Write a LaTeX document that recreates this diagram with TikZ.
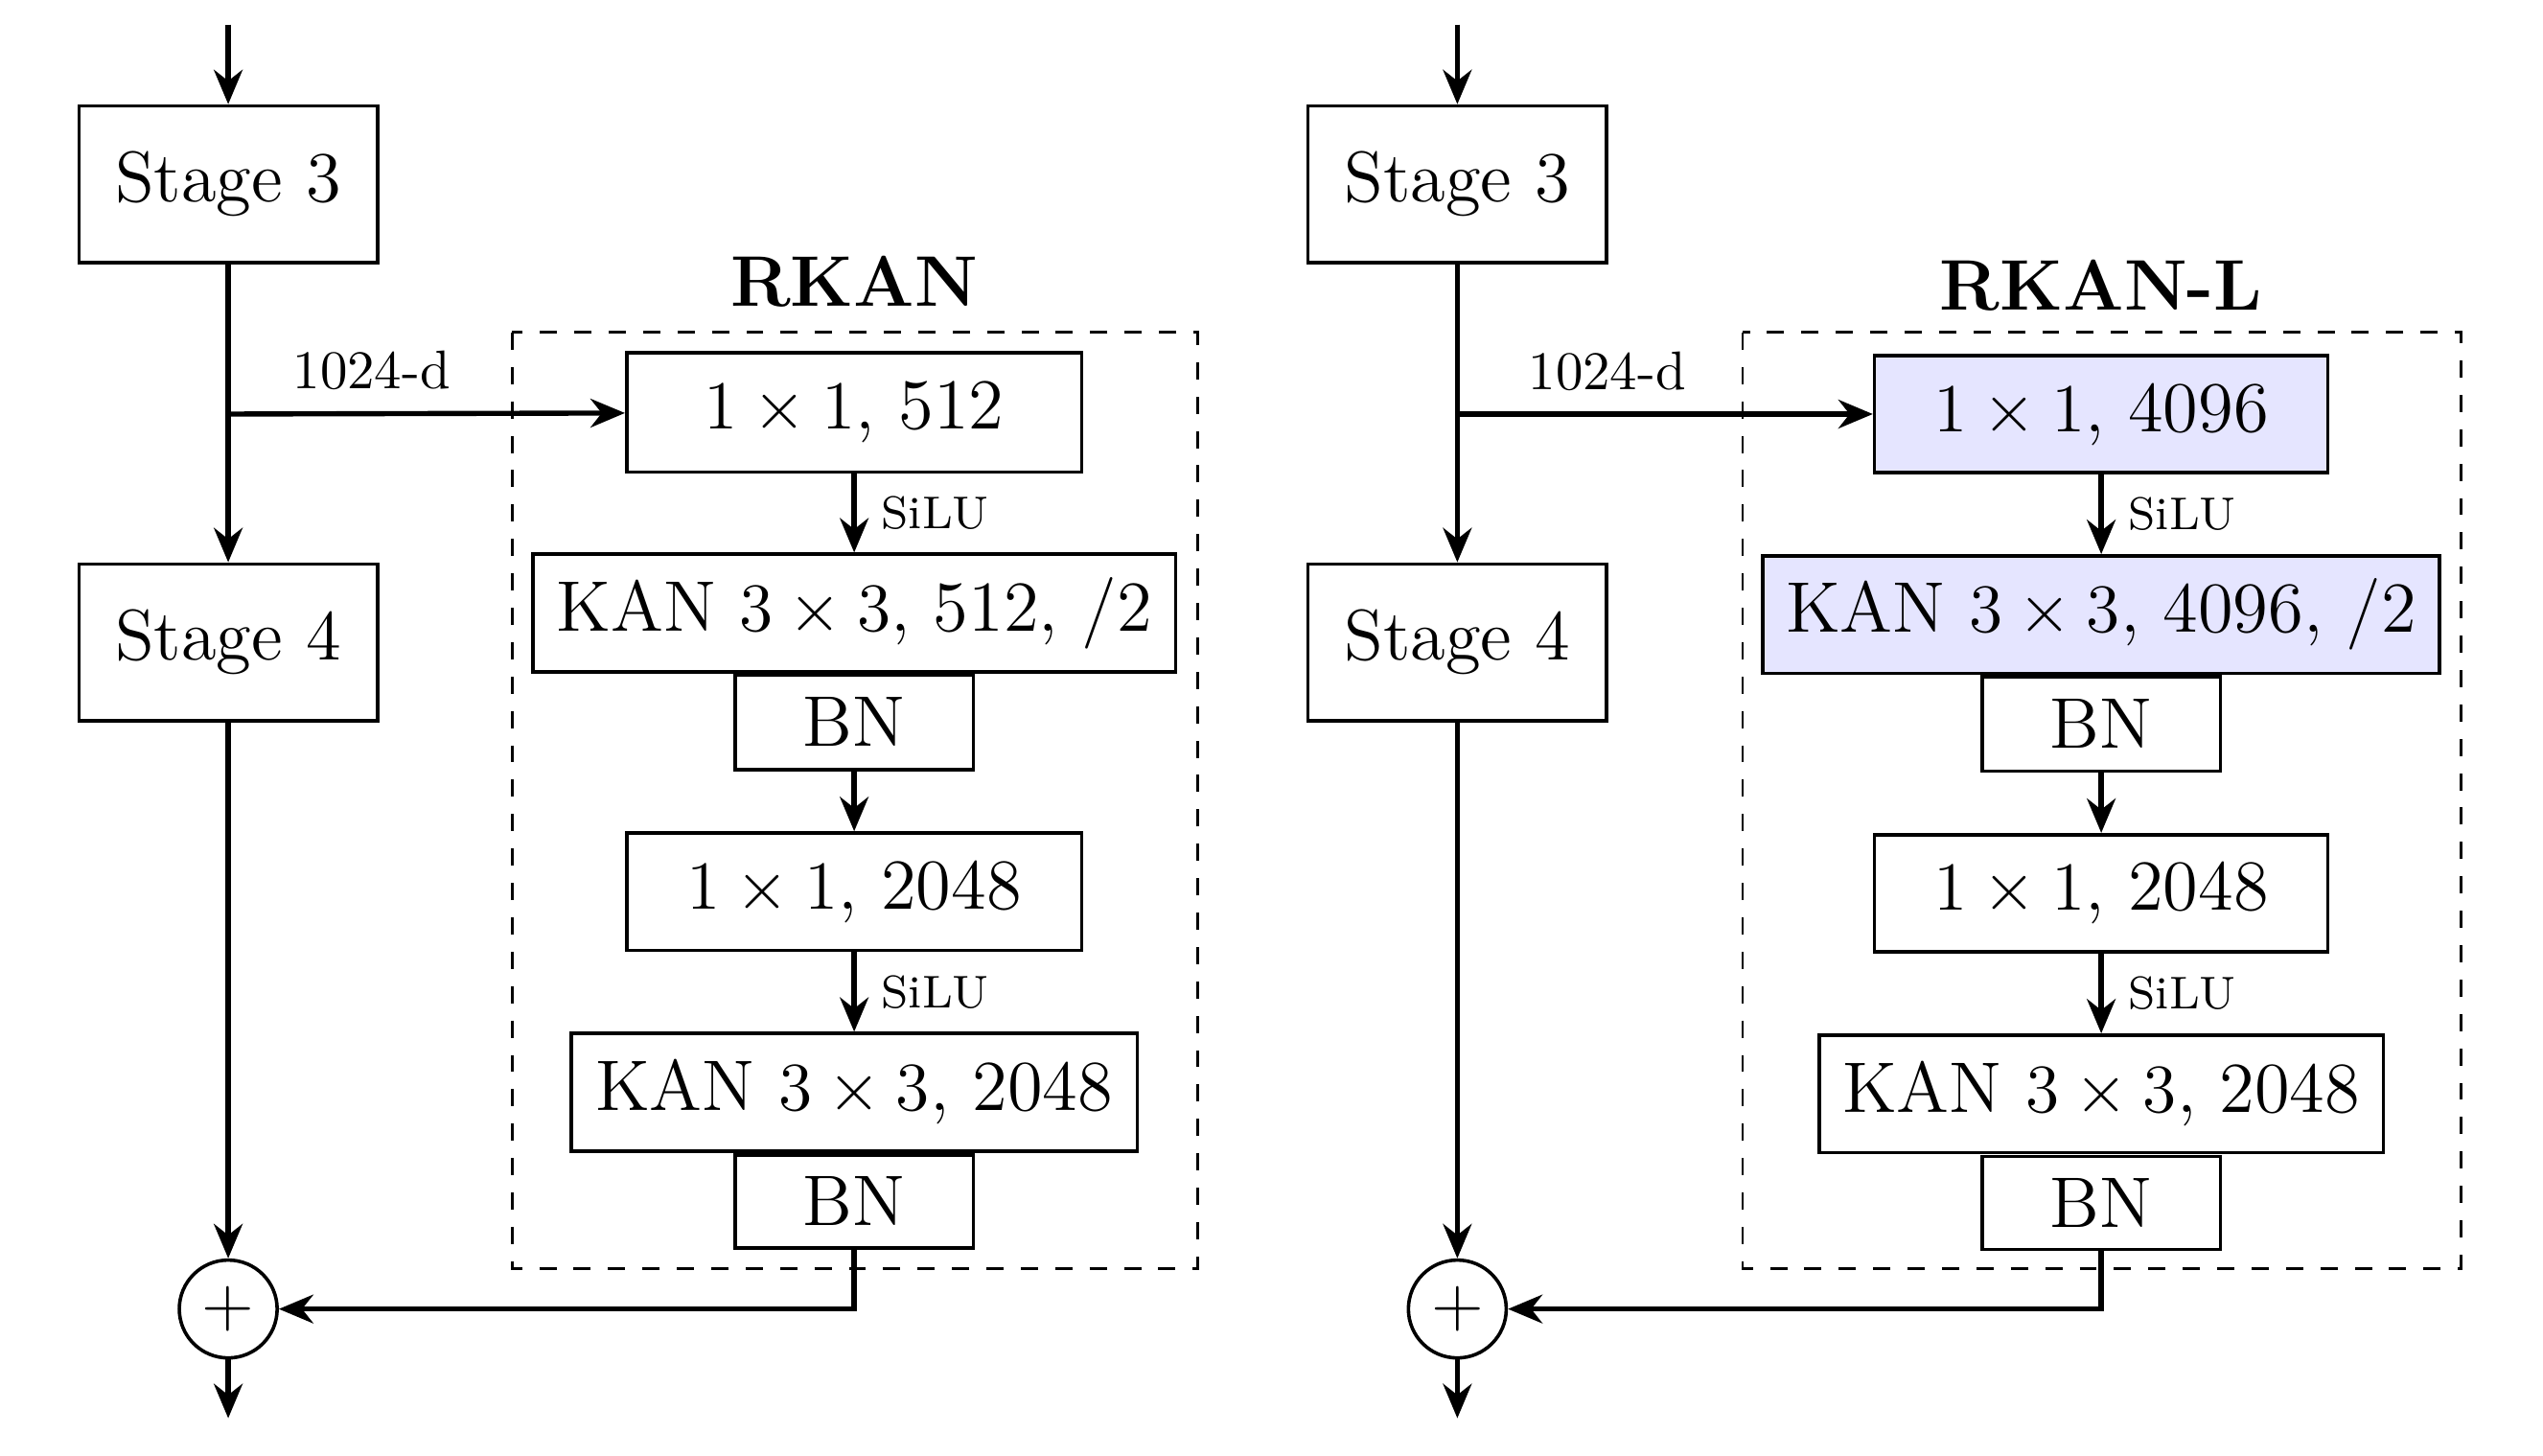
\documentclass[tikz,border=0pt]{standalone}
\usetikzlibrary{arrows.meta,calc}
\begin{document}
\begin{tikzpicture}[x=0.01cm,y=-0.01cm,
 box/.style={draw,line width=0.6pt,inner sep=0pt,font=\fontsize{12.5}{15}\selectfont},
 arr/.style={line width=0.9pt,-{Stealth[length=6pt,width=5pt]}},
 lab/.style={font=\fontsize{9.5}{11}\selectfont},
 silu/.style={font=\fontsize{8}{10}\selectfont,anchor=west},
 dashbox/.style={draw,dashed,line width=0.5pt},
 fillc/.style={fill=blue!10}]
\useasboundingbox (0,0) rectangle (1560,893);
\newcommand{\mycol}[2]{%
\node[box,minimum width=1.83cm,minimum height=0.96cm] (#2s3) at (#1,113) {Stage 3};
\node[box,minimum width=1.83cm,minimum height=0.96cm] (#2s4) at (#1,394) {Stage 4};
\node[draw,circle,line width=0.6pt,minimum size=0.6cm,inner sep=0pt,font=\fontsize{12.5}{15}\selectfont] (#2p) at (#1,803) {$+$};
\coordinate (#2top) at (#1,15);
\coordinate (#2bot) at (#1,870);
\coordinate (#2br) at (#1,254);
}
\mycol{140}{L}
\mycol{894}{R}
\draw[dashbox] (314,204) rectangle (735,778);
\draw[dashbox] (1069,204) rectangle (1510,778);
\node[font=\bfseries\fontsize{12.5}{15}\selectfont] (Lt) at (524,173) {RKAN};
\node[font=\bfseries\fontsize{12.5}{15}\selectfont] (Rt) at (1289,175) {RKAN-L};
\node[box,minimum width=2.79cm,minimum height=0.73cm] (La) at (524,253) {$1\times1$, 512};
\node[box,minimum width=3.94cm,minimum height=0.72cm] (Lb) at (524,376) {KAN $3\times3$, 512, /2};
\node[box,minimum width=1.46cm,minimum height=0.58cm] (Lc) at (524,443) {BN};
\node[box,minimum width=2.79cm,minimum height=0.72cm] (Ld) at (524,547) {$1\times1$, 2048};
\node[box,minimum width=3.47cm,minimum height=0.72cm] (Le) at (524,670) {KAN $3\times3$, 2048};
\node[box,minimum width=1.46cm,minimum height=0.57cm] (Lf) at (524,737) {BN};
\node[box,fillc,minimum width=2.78cm,minimum height=0.72cm] (Ra) at (1289,254) {$1\times1$, 4096};
\node[box,fillc,minimum width=4.15cm,minimum height=0.72cm] (Rb) at (1289,377) {KAN $3\times3$, 4096, /2};
\node[box,minimum width=1.46cm,minimum height=0.58cm] (Rc) at (1289,444) {BN};
\node[box,minimum width=2.78cm,minimum height=0.72cm] (Rd) at (1289,548) {$1\times1$, 2048};
\node[box,minimum width=3.46cm,minimum height=0.72cm] (Re) at (1289,671) {KAN $3\times3$, 2048};
\node[box,minimum width=1.46cm,minimum height=0.57cm] (Rf) at (1289,738) {BN};
\foreach \s in {L,R}{
 \draw[arr] (\s top) -- (\s s3);
 \draw[arr] (\s s3) -- (\s s4);
 \draw[arr] (\s s4) -- (\s p);
 \draw[arr] (\s p) -- (\s bot);
 \draw[arr] (\s br) -- (\s a);
 \draw[arr] (\s a) -- node[silu,right=1pt]{SiLU} (\s b);
 \draw[arr] (\s c) -- (\s d);
 \draw[arr] (\s d) -- node[silu,right=1pt]{SiLU} (\s e);
 \draw[arr] (\s f.south) |- (\s p);
}
\node[lab] (Ll) at (228,227) {1024-d};
\node[lab] (Rl) at (986,228) {1024-d};
\end{tikzpicture}
\end{document}
